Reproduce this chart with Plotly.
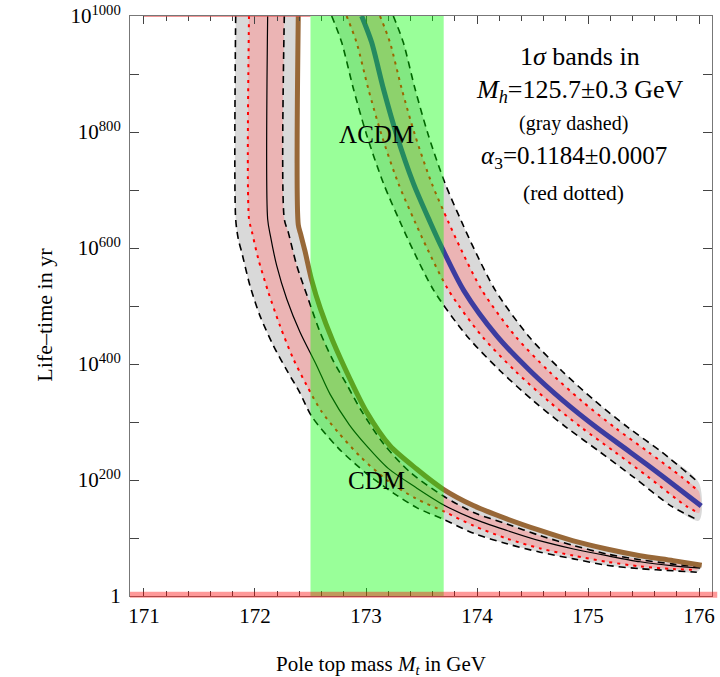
import plotly.graph_objects as go

# ---------------- data ----------------
# x = pole top mass (GeV), v = log10(lifetime / yr)
xticks = [171, 172, 173, 174, 175, 176]
yticks = [0, 200, 400, 600, 800, 1000]
yticktext = ["1", "10<sup>200</sup>", "10<sup>400</sup>", "10<sup>600</sup>",
             "10<sup>800</sup>", "10<sup>1000</sup>"]

green_band = [172.5, 173.7]

# CDM curves
cdm_dash_lo_x = [171.826, 171.826, 171.85, 171.88, 171.955, 172.045, 172.165, 172.29, 172.40,
                 172.51, 172.75, 173.0, 173.25, 173.46, 173.70, 173.97, 174.27, 174.57,
                 174.87, 175.17, 175.47, 175.77, 175.98]
cdm_dash_lo_v = [1000, 650, 615, 593, 535, 483, 432, 388, 352, 310, 255, 212, 177, 152, 132,
                 108, 90, 75.5, 64, 53, 47, 43.5, 41]

cdm_dot_lo_x = [171.946, 171.946, 171.97, 172.03, 172.12, 172.225, 172.345, 172.466, 172.6,
                172.75, 172.95, 173.2, 173.45, 173.7, 173.97, 174.27, 174.57, 174.87, 175.17,
                175.47, 175.77, 175.98]
cdm_dot_lo_v = [1000, 650, 630, 581, 524, 466, 409, 363, 318, 282, 240, 198, 168, 146, 121, 99,
                82, 69.5, 59, 51, 46.5, 45]

cdm_mid_x = [172.114, 172.114, 172.14, 172.195, 172.286, 172.405, 172.556, 172.676, 172.85,
             173.0, 173.2, 173.45, 173.7, 173.97, 174.27, 174.57, 174.87, 175.17, 175.47,
             175.77, 176.01]
cdm_mid_v = [1000, 650, 620, 570, 512, 455, 397, 348, 295, 260, 220, 187, 157, 133, 113, 95,
             81, 69.5, 59, 52, 48]

cdm_dash_hi_x = [172.264, 172.264, 172.3, 172.376, 172.48, 172.586, 172.706, 172.826, 172.95,
                 173.16, 173.40, 173.70, 173.97, 174.27, 174.57, 174.87, 175.17, 175.47,
                 175.77, 176.01]
cdm_dash_hi_v = [1000, 650, 627, 570, 512, 455, 405, 365, 322, 262, 213, 172, 144, 124, 104,
                 87, 72.5, 62.5, 55, 50]

cdm_thick_x = [172.39, 172.39, 172.41, 172.45, 172.51, 172.59, 172.70, 172.856, 173.006,
               173.216, 173.456, 173.697, 173.967, 174.268, 174.568, 174.868, 175.168,
               175.468, 175.768, 176.024]
cdm_thick_v = [1000, 640, 625, 595, 545, 495, 440, 374, 317, 259, 219, 184, 156, 133, 113, 95,
               81, 69.5, 61, 53]

# Lambda-CDM curves
lcdm_mid_x = [172.961, 173.05, 173.156, 173.276, 173.426, 173.577, 173.69, 173.88, 174.18,
              174.48, 174.78, 175.08, 175.38, 175.68, 176.02]
lcdm_mid_v = [1000, 955, 875, 795, 712, 645, 598, 527, 448, 388, 336, 290, 248, 205, 155]

lcdm_dash_lo_x = [172.691, 172.78, 172.886, 173.006, 173.156, 173.307, 173.42, 173.61, 173.91,
                  174.21, 174.51, 174.81, 175.11, 175.41, 175.75, 176.0]
lcdm_dash_lo_v = [1000, 955, 875, 795, 712, 645, 598, 527, 448, 388, 336, 290, 248, 205, 155,
                  130]

lcdm_dot_lo_x = [172.825, 172.914, 173.02, 173.14, 173.29, 173.441, 173.554, 173.744, 174.044,
                 174.344, 174.644, 174.944, 175.244, 175.544, 175.884, 176.0]
lcdm_dot_lo_v = [1000, 955, 875, 795, 712, 645, 598, 527, 448, 388, 336, 290, 248, 205, 155,
                 143]

lcdm_dot_hi_x = [173.126, 173.215, 173.321, 173.441, 173.591, 173.742, 173.855, 174.045,
                 174.345, 174.645, 174.945, 175.245, 175.545, 175.845, 176.0]
lcdm_dot_hi_v = [1000, 955, 875, 795, 712, 645, 598, 527, 448, 388, 336, 290, 248, 205, 180]

lcdm_dash_hi_x = [173.246, 173.335, 173.441, 173.561, 173.711, 173.862, 173.975, 174.165,
                  174.465, 174.765, 175.065, 175.365, 175.665, 176.0]
lcdm_dash_hi_v = [1000, 955, 875, 795, 712, 645, 598, 527, 448, 388, 336, 290, 248, 195]

legend_lines = ["1<i>σ</i> bands in",
                "<i>M</i><sub><i>h</i></sub>=125.7±0.3 GeV",
                "(gray dashed)",
                "<i>α</i><sub>3</sub>=0.1184±0.0007",
                "(red dotted)"]
legend_x = [174.93, 174.93, 174.87, 174.87, 174.87]
legend_v = [930, 870, 815, 756, 695]
legend_size = [26, 26, 20, 25, 21.5]

# ---------------- styles ----------------
FONT = "Liberation Serif, Times New Roman, serif"
GRAY = "#d9d9d9"
PINK = "#ebb4b4"
BROWN = "#986838"
BLUE = "#3c3ca0"
SM = 0.8

fig = go.Figure()


def band(xl, vl, xr, vr, color):
    fig.add_trace(go.Scatter(x=xl + xr[::-1], y=vl + vr[::-1], mode="lines",
                             fill="toself", fillcolor=color,
                             line=dict(width=0, shape="spline", smoothing=SM),
                             hoverinfo="skip", showlegend=False))


def curve(x, v, color, width, dash="solid"):
    fig.add_trace(go.Scatter(x=x, y=v, mode="lines",
                             line=dict(color=color, width=width, dash=dash,
                                       shape="spline", smoothing=SM),
                             hoverinfo="skip", showlegend=False))


# bands
band(cdm_dash_lo_x, cdm_dash_lo_v, cdm_thick_x, cdm_thick_v, GRAY)
band(cdm_dot_lo_x, cdm_dot_lo_v, cdm_dash_hi_x, cdm_dash_hi_v, PINK)
band(lcdm_dash_lo_x, lcdm_dash_lo_v, lcdm_dash_hi_x, lcdm_dash_hi_v, GRAY)
band(lcdm_dot_lo_x, lcdm_dot_lo_v, lcdm_dot_hi_x, lcdm_dot_hi_v, PINK)

DASH = "7px,5px"
DOT = "3px,5px"
# CDM lines
curve(cdm_dash_lo_x, cdm_dash_lo_v, "black", 1.6, DASH)
curve(cdm_dash_hi_x, cdm_dash_hi_v, "black", 1.6, DASH)
curve(cdm_dot_lo_x, cdm_dot_lo_v, "red", 2, DOT)
curve(cdm_mid_x, cdm_mid_v, "black", 1.2)
curve(cdm_thick_x, cdm_thick_v, BROWN, 5)
# LCDM lines
curve(lcdm_dash_lo_x, lcdm_dash_lo_v, "black", 1.6, DASH)
curve(lcdm_dash_hi_x, lcdm_dash_hi_v, "black", 1.6, DASH)
curve(lcdm_dot_lo_x, lcdm_dot_lo_v, "red", 2, DOT)
curve(lcdm_dot_hi_x, lcdm_dot_hi_v, "red", 2, DOT)
curve(lcdm_mid_x, lcdm_mid_v, BLUE, 5)

XR = [170.874, 176.117]
YR = [0, 1000]

shapes = [
    dict(type="rect", xref="x", yref="y", x0=green_band[0], x1=green_band[1],
         y0=YR[0], y1=YR[1], fillcolor="rgba(0,255,0,0.4)", line=dict(width=0),
         layer="above"),
    dict(type="line", xref="paper", yref="paper", x0=0, x1=1.009, y0=0.002, y1=0.002,
         line=dict(color="rgba(255,0,0,0.4)", width=6), layer="above"),
    dict(type="line", xref="x", yref="y", x0=171.0, x1=green_band[0], y0=1000, y1=1000,
         line=dict(color="rgba(230,80,80,0.6)", width=2), layer="above"),
]

ann = []
for t, xx, v, s in zip(legend_lines, legend_x, legend_v, legend_size):
    ann.append(dict(x=xx, y=v, xref="x", yref="y", text=t, showarrow=False,
                    font=dict(family=FONT, size=s, color="black"),
                    xanchor="center", yanchor="middle"))
ann.append(dict(x=173.097, y=795, xref="x", yref="y", text="ΛCDM", showarrow=False,
                font=dict(family=FONT, size=25, color="black")))
ann.append(dict(x=173.097, y=200, xref="x", yref="y", text="CDM", showarrow=False,
                font=dict(family=FONT, size=25, color="black")))
ann.append(dict(x=0.431, y=-0.119, xref="paper", yref="paper",
                text="Pole top mass <i>M</i><sub><i>t</i></sub> in GeV", showarrow=False,
                font=dict(family=FONT, size=21, color="black"),
                xanchor="center", yanchor="middle"))
ann.append(dict(x=-0.146, y=0.485, xref="paper", yref="paper", text="Life–time in yr",
                textangle=-90, showarrow=False,
                font=dict(family=FONT, size=22, color="black"),
                xanchor="center", yanchor="middle"))

fig.update_layout(
    width=720, height=677,
    margin=dict(l=130, r=8, t=16, b=81, autoexpand=False),
    paper_bgcolor="white", plot_bgcolor="white",
    shapes=shapes, annotations=ann,
    font=dict(family=FONT, size=21, color="black"),
)
fig.update_xaxes(range=XR, tickvals=xticks, ticks="inside", ticklen=8, tickcolor="#444",
                 showline=True, linecolor="#777", linewidth=1, mirror="ticks",
                 showgrid=False, zeroline=False, ticklabelstandoff=1, automargin=False,
                 tickfont=dict(family=FONT, size=21, color="black"),
                 minor=dict(tick0=171, dtick=0.2, ticks="inside", ticklen=5,
                            tickcolor="#444", showgrid=False))
fig.update_yaxes(range=YR, tickvals=yticks, ticktext=yticktext, ticks="inside", ticklen=9,
                 tickcolor="#444", showline=True, linecolor="#777", linewidth=1,
                 mirror="ticks", showgrid=False, zeroline=False, ticklabelstandoff=4,
                 automargin=False,
                 tickfont=dict(family=FONT, size=21, color="black"),
                 minor=dict(tick0=0, dtick=100, ticks="inside", ticklen=9,
                            tickcolor="#444", showgrid=False))

fig.write_html("out.html",
               config={"displayModeBar": False},
               post_script="document.body.style.margin='0px';"
                           "document.body.style.padding='0px';")
